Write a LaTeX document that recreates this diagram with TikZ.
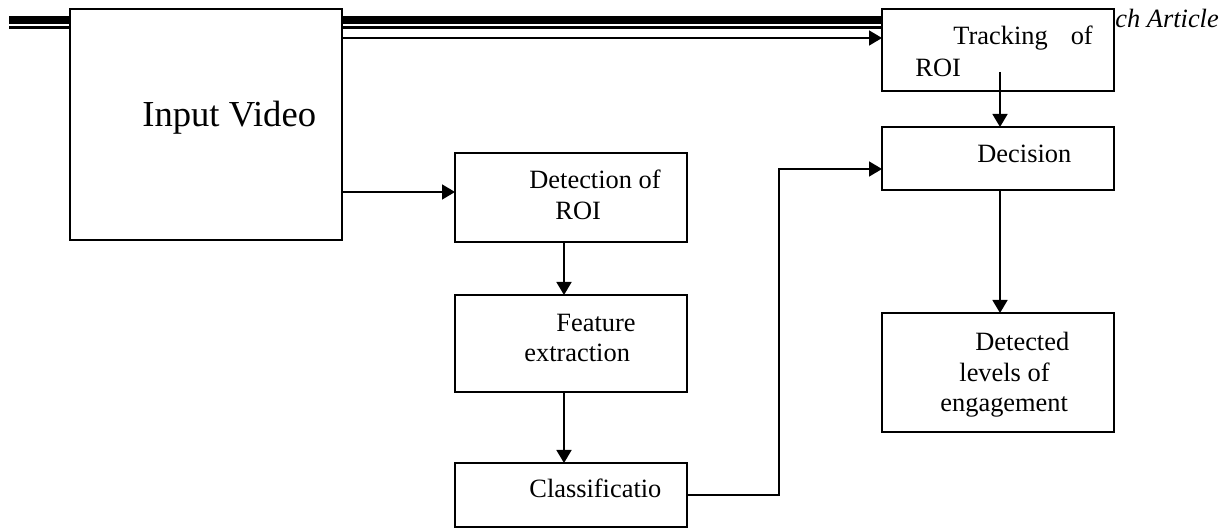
\documentclass[tikz,border=0pt]{standalone}
\usepackage{fontspec}
\setmainfont{Liberation Serif}
\usetikzlibrary{arrows.meta}
\begin{document}
\begin{tikzpicture}[x=0.5pt,y=-0.5pt,
  box/.style={draw, line width=1pt, fill=white, inner sep=0pt, outer sep=0pt},
  txt/.style={inner sep=0pt, anchor=base west, font=\fontsize{13.2}{15}\selectfont},
  conn/.style={line width=0.8pt, -{Triangle[length=6.5pt,width=7.5pt]}},
  plain/.style={line width=0.8pt}]
\useasboundingbox (0,0) rectangle (1225,528);
% page header rules (behind the boxes)
\coordinate (hl) at (9,20);
\coordinate (hr) at (883,20);
\coordinate (tl) at (9,27.5);
\coordinate (tr) at (883,27.5);
\draw[line width=4pt] (hl) -- (hr);
\draw[line width=1.5pt] (tl) -- (tr);
\node[txt, font=\fontsize{13.2}{15}\selectfont\itshape] (hdr) at (1115,28) {ch Article};
% boxes
\node[box, minimum width=136pt, minimum height=115.5pt] (iv)  at (206,124.5) {};
\node[box, minimum width=116pt, minimum height=41pt]    (trk) at (998,50) {};
\node[box, minimum width=116pt, minimum height=31.5pt]  (dec) at (998,158.5) {};
\node[box, minimum width=116pt, minimum height=59.5pt]  (lev) at (998,372.5) {};
\node[box, minimum width=116pt, minimum height=44.5pt]  (det) at (571,197.5) {};
\node[box, minimum width=116pt, minimum height=48.5pt]  (fea) at (571,343.5) {};
\node[box, minimum width=116pt, minimum height=32pt]    (cls) at (571,495) {};
% texts
\node[txt, font=\fontsize{18.3}{22}\selectfont] (tiv) at (142,127) {Input Video};
\node[txt] (ttrk1) at (953,45) {Tracking\hspace{11.5pt}of};
\node[txt] (ttrk2) at (915,77) {ROI};
\node[txt] (tdec)  at (977,163) {Decision};
\node[txt] (tdet1) at (529,189) {Detection of};
\node[txt] (tdet2) at (555,220) {ROI};
\node[txt] (tfea1) at (556,332) {Feature};
\node[txt] (tfea2) at (524,362) {extraction};
\node[txt] (tcls)  at (529,498) {Classificatio};
\node[txt] (tlev1) at (975,351) {Detected};
\node[txt] (tlev2) at (959,382) {levels of};
\node[txt] (tlev3) at (940,412) {engagement};
% helper coordinates
\coordinate (y38) at (0,38);
\coordinate (y192) at (0,192);
\coordinate (bend) at (779,169);
\coordinate (trkstart) at (1000,72);
\coordinate (xcol) at (564,0);
% connectors
\draw[conn] (iv.east |- y38) -- (trk.west |- y38);
\draw[conn] (iv.east |- y192) -- (det.west |- y192);
\draw[conn] (trkstart) -- (dec.north -| trkstart);
\draw[conn] (dec.south -| trkstart) -- (lev.north -| trkstart);
\draw[conn] (det.south -| xcol) -- (fea.north -| xcol);
\draw[conn] (fea.south -| xcol) -- (cls.north -| xcol);
\draw[conn] (cls.east) -| (bend) -- (dec.west |- bend);
\end{tikzpicture}
\end{document}
